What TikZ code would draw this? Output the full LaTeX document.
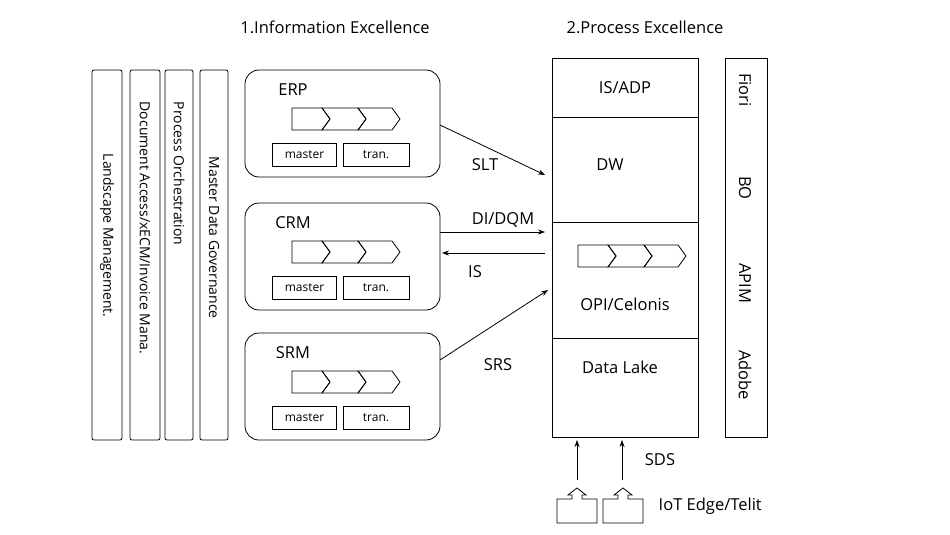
\documentclass[tikz,border=0pt]{standalone}
\usepackage{fontspec}
\setmainfont{Open Sans}
\usetikzlibrary{arrows.meta}
\begin{document}
\begin{tikzpicture}[x=1pt,y=-1pt,line width=0.8pt,
  bar/.style={draw,rounded corners=2pt},
  sys/.style={draw,rounded corners=14pt},
  lbl/.style={font=\fontsize{16.5}{19}\selectfont},
  small/.style={draw,minimum width=64pt,minimum height=23pt,inner sep=0pt,font=\fontsize{12}{14}\selectfont},
  arr/.style={-{Stealth[length=7pt,width=5pt]}}]
\useasboundingbox (0,0) rectangle (950,535);
\newcommand\chev[2]{%
 \draw (#1,#2) -- (#1+30,#2) -- (#1+38,#2+11) -- (#1+30,#2+22) -- (#1,#2+22) -- cycle;
 \draw (#1+30,#2) -- (#1+66,#2) -- (#1+74,#2+11) -- (#1+66,#2+22) -- (#1+30,#2+22) -- (#1+38,#2+11) -- cycle;
 \draw (#1+66,#2) -- (#1+100,#2) -- (#1+108,#2+11) -- (#1+100,#2+22) -- (#1+66,#2+22) -- (#1+74,#2+11) -- cycle;}
% titles
\node[lbl] (t1) at (335,27) {1.Information Excellence};
\node[lbl] (t2) at (645,27) {2.Process Excellence};
% vertical bars
\foreach \xa/\xb/\s/\t [count=\i] in {92/122/150/{Landscape Management.},130/160/98/{Document Access/xECM/Invoice Mana.},165/193/98/{Process Orchestration},200/228/153/{Master Data Governance}}{
  \draw[bar] (\xa,70) rectangle (\xb,440);
  \node[rotate=-90,font=\fontsize{14}{16}\selectfont,anchor=west] (v\i) at ({(\xa+\xb)/2},\s) {\t};
}
% systems
\foreach \n/\y in {ERP/70,CRM/203,SRM/333}{
  \draw[sys] (245,\y) rectangle (440,\y+107);
  \node[lbl] (\n) at (293,\y+20) {\n};
  \chev{292}{\y+38}
  \node[small] (\n m) at (304.5,\y+85) {master};
  \node[small,minimum width=66pt] (\n t) at (376,\y+85) {tran.};
}
% right column
\draw (552,58) rectangle (698,437);
\draw (552,117) -- (698,117) (552,222) -- (698,222) (552,338) -- (698,338);
\node[lbl] (isadp) at (625,88) {IS/ADP};
\node[lbl] (dw) at (610,165) {DW};
\chev{578}{245}
\node[lbl] (opi) at (625,304) {OPI/Celonis};
\node[lbl] (dl) at (620,367) {Data Lake};
% right bar
\draw (725,58) rectangle (767,437);
\foreach \t/\y [count=\i] in {Fiori/90,BO/188,APIM/283,Adobe/375}
  \node[lbl,rotate=-90] (r\i) at (745,\y) {\t};
% arrows
\coordinate (a1) at (440,125); \coordinate (b1) at (545,175);
\draw[arr] (a1) -- (b1);
\node[lbl] (slt) at (485,165) {SLT};
\node[lbl] (di) at (503,220) {DI/DQM};
\coordinate (a2) at (440,232); \coordinate (b2) at (545,232);
\draw[arr] (a2) -- (b2);
\coordinate (a3) at (545,253); \coordinate (b3) at (442,253);
\draw[arr] (a3) -- (b3);
\node[lbl] (is) at (475,272) {IS};
\coordinate (a4) at (440,360); \coordinate (b4) at (548,290);
\draw[arr] (a4) -- (b4);
\node[lbl] (srs) at (498,365) {SRS};
\coordinate (u1) at (577,480); \coordinate (v1) at (577,440);
\coordinate (u2) at (622,480); \coordinate (v2) at (622,440);
\draw[arr] (u1) -- (v1);
\draw[arr] (u2) -- (v2);
\node[lbl] (sds) at (660,460) {SDS};
\foreach \x in {557,603}
  \draw (\x+15,499) -- (\x,499) -- (\x,523) -- (\x+40,523) -- (\x+40,499) -- (\x+25,499) -- (\x+25,495) -- (\x+29,495) -- (\x+20,488) -- (\x+11,495) -- (\x+15,495) -- cycle;
\node[lbl,anchor=west] (iot) at (655,506) {IoT Edge/Telit};
\end{tikzpicture}
\end{document}
